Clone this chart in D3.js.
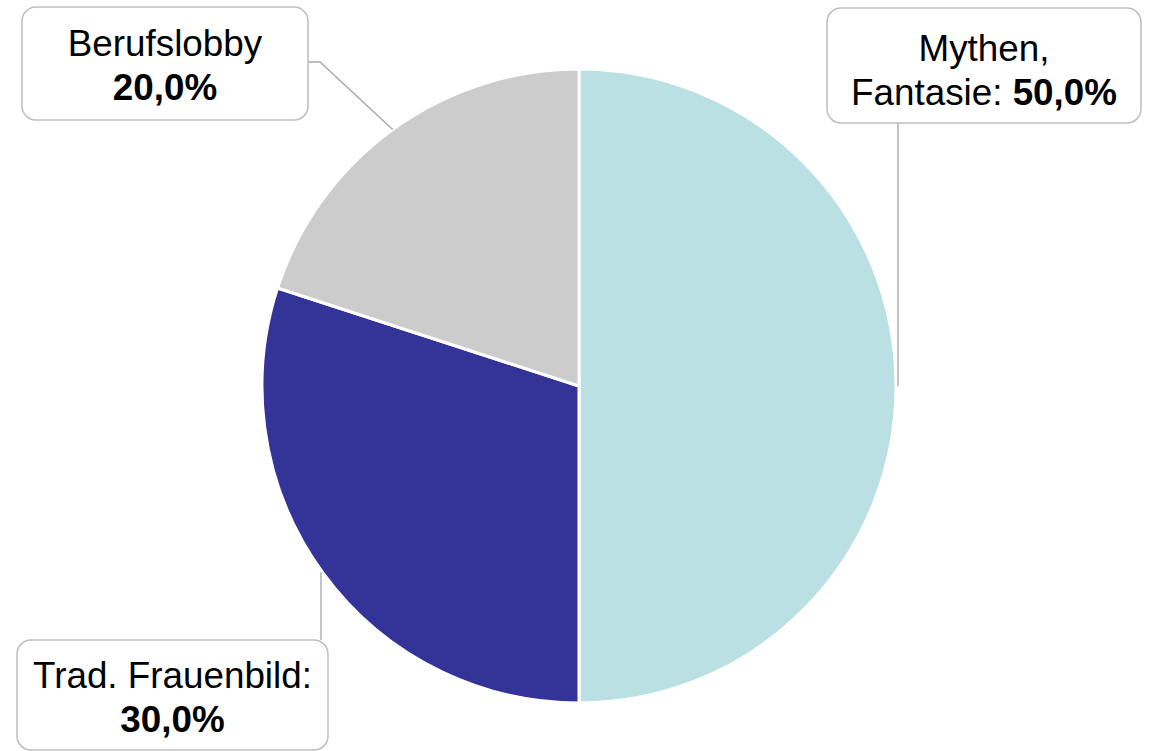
<!DOCTYPE html>
<html>
<head>
<meta charset="utf-8">
<script src="https://cdn.jsdelivr.net/npm/d3@7"></script>
<style>
  html, body { margin: 0; padding: 0; background: #fff; }
  svg { display: block; }
</style>
</head>
<body>
<div id="chart"></div>
<script>
// ---- DATA ----
const categories = ['Mythen, Fantasie', 'Trad. Frauenbild', 'Berufslobby'];
const values = [50.0, 30.0, 20.0];
const colors = ['#bae0e3', '#343398', '#cccccc'];
// label text lines (percentage gets appended to the last line in bold)
const labelLines = [
  ['Mythen,', 'Fantasie: '],
  ['Trad. Frauenbild:', ''],
  ['Berufslobby', '']
];

// ---- LAYOUT ----
const W = 1152, H = 751;
const cx = 579, cy = 386, radius = 317;
const fontSize = 36.8, lineGap = 44;

// callout boxes and leader routes, same order as categories
const callouts = [
  { box: { x: 827, y: 8, w: 314, h: 115 }, base: 61, vertical: true, end: [898, 123] },
  { box: { x: 17, y: 640, w: 311, h: 110 }, base: 688, vertical: true, end: [321, 640] },
  { box: { x: 22, y: 7, w: 286, h: 113 }, base: 56, knee: [320, 62], end: [308, 62] }
];

const fmtPct = v => d3.format('.1f')(v).replace('.', ',') + '%';

const svg = d3.select('#chart').append('svg')
  .attr('width', W).attr('height', H)
  .attr('viewBox', `0 0 ${W} ${H}`);

const data = categories.map((c, i) => ({ name: c, value: values[i], i }));

const pie = d3.pie().value(d => d.value).sort(null)
  .startAngle(0).endAngle(2 * Math.PI);
const arcs = pie(data);

const arc = d3.arc().innerRadius(0).outerRadius(radius);
const edgeArc = d3.arc().innerRadius(radius).outerRadius(radius);

const g = svg.append('g').attr('transform', `translate(${cx},${cy})`);

// ---- SLICES ----
g.selectAll('path.slice').data(arcs).join('path')
  .attr('class', 'slice')
  .attr('d', arc)
  .attr('fill', d => colors[d.data.i])
  .attr('stroke', '#fff')
  .attr('stroke-width', 3)
  .attr('stroke-linejoin', 'round');

// ---- LEADER LINES ----
const line = d3.line();
svg.selectAll('path.leader').data(arcs).join('path')
  .attr('class', 'leader')
  .attr('d', d => {
    const c = callouts[d.data.i];
    const e = edgeArc.centroid(d);
    let start = [cx + e[0], cy + e[1]];
    if (c.vertical) start = [c.end[0], start[1]];
    const pts = [start];
    if (c.knee) pts.push(c.knee);
    pts.push(c.end);
    return line(pts);
  })
  .attr('fill', 'none')
  .attr('stroke', '#a6a6a6')
  .attr('stroke-width', 1.3);

// ---- CALLOUT BOXES ----
const lab = svg.selectAll('g.callout').data(arcs).join('g').attr('class', 'callout');

lab.append('rect')
  .attr('x', d => callouts[d.data.i].box.x)
  .attr('y', d => callouts[d.data.i].box.y)
  .attr('width', d => callouts[d.data.i].box.w)
  .attr('height', d => callouts[d.data.i].box.h)
  .attr('rx', 14)
  .attr('fill', '#fff')
  .attr('stroke', '#bfbfbf')
  .attr('stroke-width', 1.5);

lab.each(function(d) {
  const c = callouts[d.data.i];
  const lines = labelLines[d.data.i];
  const t = d3.select(this).append('text')
    .attr('text-anchor', 'middle')
    .style('font-family', 'Liberation Sans, Arial, sans-serif')
    .style('font-size', fontSize + 'px')
    .style('fill', '#000');
  lines.forEach((ln, k) => {
    const ts = t.append('tspan')
      .attr('x', c.box.x + c.box.w / 2)
      .attr('y', c.base + k * lineGap);
    ts.append('tspan').text(ln);
    if (k === lines.length - 1) {
      ts.append('tspan')
        .style('font-weight', '700')
        .text(fmtPct(d.data.value));
    }
  });
});
</script>
</body>
</html>
